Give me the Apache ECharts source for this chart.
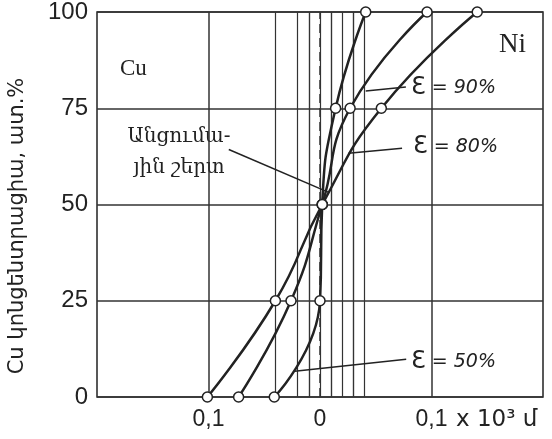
<!DOCTYPE html>
<html>
<head>
<meta charset="utf-8">
<script src="https://cdn.jsdelivr.net/npm/echarts@6/dist/echarts.min.js"></script>
<style>
html, body { margin: 0; background: #fff; }
#main { width: 552px; height: 439px; }
</style>
</head>
<body>
<div id="main"></div>
<script>
// concentration levels where points were measured
var yLevels = [0, 25, 50, 75, 100];
// x positions (x 10^3) of the measured points for each reduction
var xEps50 = [-0.041, 0.000, 0.002, 0.014, 0.041];
var xEps90 = [-0.073, -0.026, 0.002, 0.027, 0.096];
var xEps80 = [-0.101, -0.040, 0.002, 0.055, 0.141];
// vertical hatching of the transition layer
var hatchLines = [-0.035, -0.023, -0.0145, -0.009, -0.0035, 0.009, 0.0135, 0.02, 0.027, 0.0345, 0.042];
var gridX = [-0.1, 0.1];
// leader lines for the annotations
var leader90 = [[0.041, 79.5], [0.077, 80.5]];
var leader80 = [[0.0255, 63.3], [0.0736, 64.6]];
var leader50 = [[-0.0227, 6.7], [0.0773, 9.8]];
var leaderLayer = [[-0.0818, 64.3], [0.0073, 53.2]];

var ink = '#222';
var myChart = echarts.init(document.getElementById('main'));

function pts(xs) {
    return yLevels.map(function (y, i) { return [xs[i], y]; });
}
function seg(p) {
    return [{ coord: p[0] }, { coord: p[1] }];
}
function epsLabel(x, y, pct) {
    return {
        type: 'text', x: x, y: y,
        style: {
            text: '{e|Ɛ}{t| = ' + pct + '%}', fill: ink, verticalAlign: 'middle',
            rich: {
                e: { font: '24px "DejaVu Sans"', fill: ink },
                t: { font: 'italic 19px "DejaVu Sans"', fill: ink }
            }
        }
    };
}

var vLines = [];
gridX.forEach(function (v) {
    vLines.push({ xAxis: v, lineStyle: { color: '#333', width: 1.5, type: 'solid' } });
});
hatchLines.forEach(function (v) {
    vLines.push({ xAxis: v, lineStyle: { color: '#333', width: 1.2, type: 'solid' } });
});
vLines.push({ xAxis: 0, lineStyle: { color: '#333', width: 1.5, type: [9, 5] } });

var curveStyle = {
    type: 'line',
    smooth: 0.5,
    symbol: 'circle',
    symbolSize: 10,
    itemStyle: { color: '#fff', borderColor: ink, borderWidth: 1.5 },
    lineStyle: { color: ink, width: 2.5 },
    z: 5
};

myChart.setOption({
    animation: false,
    backgroundColor: '#fff',
    grid: {
        left: 97, right: 9, top: 10, bottom: 42,
        show: true, borderColor: ink, borderWidth: 1.5
    },
    xAxis: {
        type: 'value', min: -0.2, max: 0.2, interval: 0.1,
        axisLine: { show: false },
        axisTick: { show: false },
        splitLine: { show: false },
        axisLabel: {
            showMinLabel: false, showMaxLabel: false,
            margin: 11, fontSize: 23, color: ink, fontFamily: 'Liberation Sans',
            formatter: function (v) {
                var r = Math.round(Math.abs(v) * 10) / 10;
                return r === 0 ? '0' : String(r).replace('.', ',');
            }
        }
    },
    yAxis: {
        type: 'value', min: 0, max: 100, interval: 25,
        axisLine: { show: false },
        axisTick: { show: false },
        splitLine: { lineStyle: { color: '#333', width: 1.5 } },
        axisLabel: {
            margin: 9, fontSize: 24, color: ink, fontFamily: 'Liberation Sans',
            padding: [10, 0, 0, 0]
        }
    },
    series: [
        Object.assign({}, curveStyle, {
            name: 'ε = 50%',
            data: pts(xEps50),
            markLine: {
                silent: true, symbol: 'none', label: { show: false },
                animation: false, z: 1,
                data: vLines
            }
        }),
        Object.assign({}, curveStyle, {
            name: 'ε = 90%',
            data: pts(xEps90),
            markLine: {
                silent: true, symbol: 'none', label: { show: false },
                lineStyle: { color: ink, width: 1.5, type: 'solid' },
                data: [seg(leader90), seg(leader80), seg(leader50), seg(leaderLayer)]
            }
        }),
        Object.assign({}, curveStyle, {
            name: 'ε = 80%',
            data: pts(xEps80)
        })
    ],
    graphic: [
        {
            type: 'text', x: 18, y: 226, rotation: Math.PI / 2,
            style: {
                text: 'Cu կոնցենտրացիա, ատ.%', fill: ink,
                font: '21px "DejaVu Sans"', align: 'center', verticalAlign: 'middle'
            }
        },
        {
            type: 'text', x: 456, y: 420,
            style: {
                text: 'x 10³ մ', fill: ink,
                font: '23px "DejaVu Sans"', align: 'left', verticalAlign: 'middle'
            }
        },
        {
            type: 'text', x: 120, y: 69,
            style: { text: 'Cu', fill: ink, font: '23px "Liberation Serif"', verticalAlign: 'middle' }
        },
        {
            type: 'text', x: 499, y: 45,
            style: { text: 'Ni', fill: ink, font: '27px "Liberation Serif"', verticalAlign: 'middle' }
        },
        {
            type: 'text', x: 179, y: 152,
            style: {
                text: 'Անցումա-\nյին շերտ', fill: ink, lineHeight: 31,
                font: '20px "DejaVu Serif"', align: 'center', verticalAlign: 'middle'
            }
        },
        epsLabel(411, 88, 90),
        epsLabel(413, 147, 80),
        epsLabel(411, 362, 50)
    ]
}, true);
</script>
</body>
</html>
